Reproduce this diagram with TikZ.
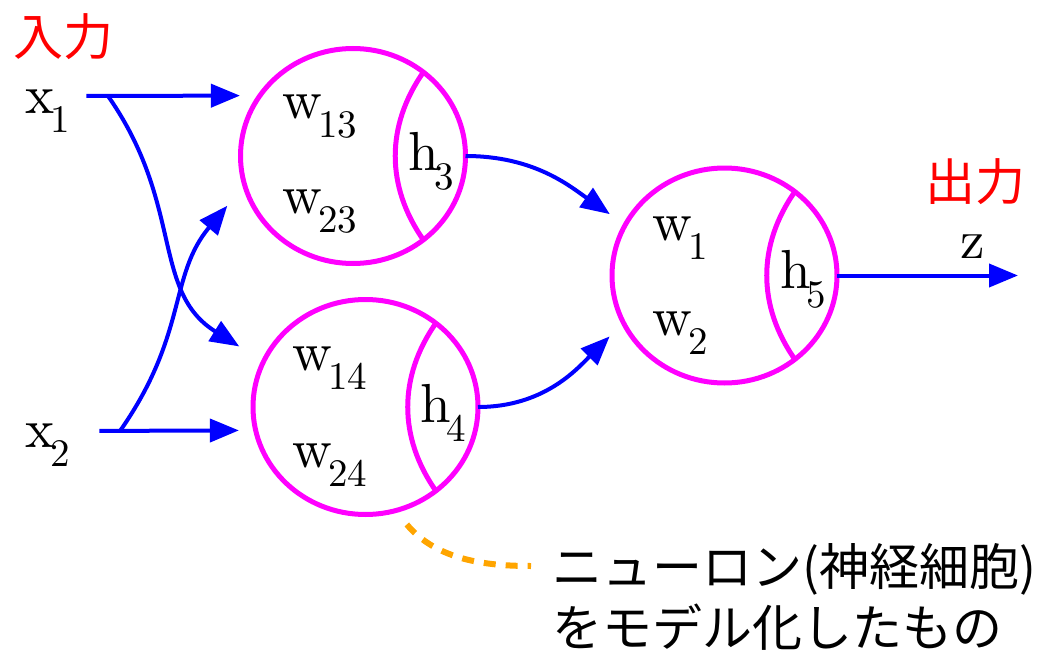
\documentclass[tikz,border=0pt]{standalone}
\usepackage{fontspec}
\usepackage{tikz}
\usetikzlibrary{shapes.geometric,arrows.meta,positioning}
\newfontfamily\jpfont{Noto Sans CJK JP}
\newfontfamily\symfont{lmroman10-regular}[Extension=.otf]
\definecolor{neuronpink}{RGB}{255,0,255}
\definecolor{wireblue}{RGB}{0,0,255}
\definecolor{notered}{RGB}{255,0,0}
\definecolor{noteorange}{RGB}{255,165,0}
% letter with a low index
\newcommand{\subidx}[2]{#1\kern-2pt\raisebox{-9.5pt}{\fontsize{19.5}{20}\selectfont #2}}

\begin{document}
\begin{tikzpicture}[
  x=0.5pt, y=-0.5pt,
  neuron/.style={draw=neuronpink, line width=2.5pt, ellipse, minimum width=112.5pt, minimum height=107.5pt, inner sep=0pt, outer sep=0pt},
  divider/.style={draw=neuronpink, line width=2.5pt},
  sym/.style={anchor=base west, inner sep=0pt, font=\symfont\fontsize{27.5}{33}\selectfont},
  jp/.style={anchor=base west, inner sep=0pt, text height=22pt, text depth=3pt, font=\jpfont\fontsize{25}{30}\selectfont},
  arr/.style={-{Triangle[length=14.5pt,width=11.5pt]}, line width=2pt, wireblue},
  hint/.style={noteorange, line width=3pt, dash pattern=on 6pt off 5pt}
]
  \useasboundingbox (0,0) rectangle (1045,653);

  % neurons
  \node[neuron] (n3) at (353,156) {};
  \node[neuron] (n4) at (365.5,407) {};
  \node[neuron] (n5) at (724.5,275.5) {};
  \foreach \n in {n3,n4,n5}
    \draw[divider] (\n.50) to[bend right=35] (\n.-50);

  % weights, outputs and inputs
  \foreach \name/\px/\py/\base/\ind in {
    w13/282/118/w/13, w23/282/213/w/23, h3/408/170/h/3,
    w14/292/370/w/14, w24/292/467/w/24, h4/420/422/h/4,
    w1/652/240/w/1, w2/652/335/w/2, h5/780/288/h/5,
    x1/25/113/x/1, x2/25/447/x/2
  }{
    \node[sym] (\name) at (\px,\py) {\subidx{\base}{\ind}};
  }
  \node[sym] (z) at (960,258) {z};

  \node[jp, text=notered] (inlbl)  at (13,55)   {入力};
  \node[jp, text=notered] (outlbl) at (925,200) {出力};
  \node[jp] (note1) at (552,585) {ニューロン(神経細胞)};
  \node[jp, below=5.5pt of note1.south west, anchor=north west] (note2) {をモデル化したもの};

  \coordinate (j1) at (108,96);
  \coordinate (j2) at (120,431);
  \coordinate (zend) at (1018,275.5);

  \draw[arr, shorten <=8pt, shorten >=10pt] (x1.east |- j1) -- (n3.147);
  \draw[arr, shorten >=14.3pt] (j1) to[out=-55, in=148, looseness=1.1] (n4.156);
  \draw[arr, shorten <=8pt, shorten >=8.4pt] (x2.east |- j2) -- (n4.192);
  \draw[arr, shorten >=13.5pt] (j2) to[out=55, in=-130, looseness=1.1] (n3.-165);
  \draw[arr, shorten >=9.4pt] (n3.east) to[out=0, in=145] (n5.153);
  \draw[arr, shorten >=9.75pt] (n4.east) to[out=0, in=-135] (n5.-155);
  \draw[arr] (n5.east) -- (zend);

  \draw[hint, shorten <=9pt, shorten >=10.5pt] (n4.-74) to[out=-50, in=180] (note1.west);
\end{tikzpicture}
\end{document}
